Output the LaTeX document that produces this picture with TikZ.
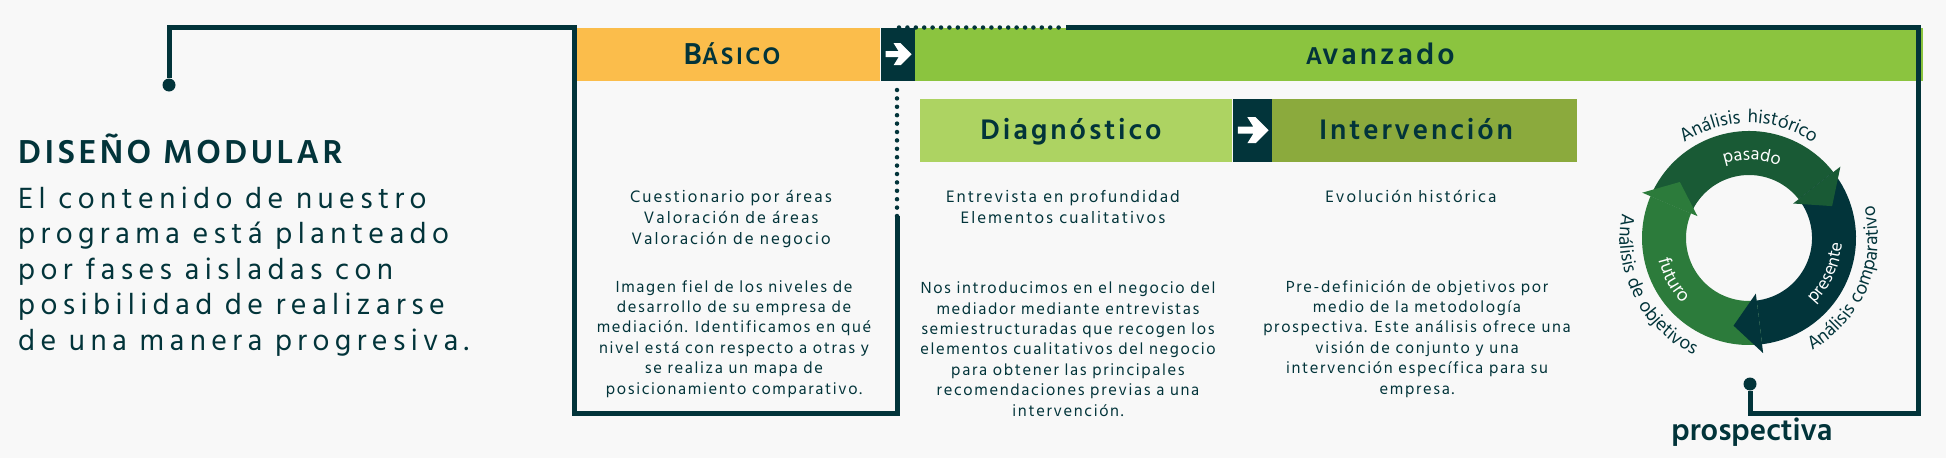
\documentclass[tikz,border=0pt]{standalone}
\usepackage{fontspec}
\setmainfont{Hind Madurai}[LetterSpace=10]
\usetikzlibrary{positioning,arrows.meta,decorations.text}

\definecolor{oscuro}{HTML}{02343A}
\definecolor{naranja}{HTML}{FBBD4B}
\definecolor{verde}{HTML}{8BC43F}
\definecolor{verdeclaro}{HTML}{ADD362}
\definecolor{oliva}{HTML}{8BAA3D}
\definecolor{pasadoc}{HTML}{195A35}
\definecolor{futuroc}{HTML}{2C7B3B}
\definecolor{fondo}{HTML}{F8F8F8}

\tikzstyle{barra}=[rectangle,inner sep=0pt,minimum height=53pt]
\tikzstyle{fase}=[rectangle,inner sep=0pt,minimum height=63pt]
\tikzstyle{flechabox}=[rectangle,fill=oscuro,inner sep=0pt]
\tikzstyle{cabecera}=[text=oscuro,inner sep=0pt,font=\bfseries\fontsize{29}{29}\selectfont]
\tikzstyle{lista}=[text=oscuro,inner sep=0pt,align=center,font=\fontsize{17}{21}\selectfont\addfontfeature{LetterSpace=12}]
\tikzstyle{parrafo}=[text=oscuro,inner sep=0pt,align=center,font=\fontsize{16.5}{20.4}\selectfont]
\tikzstyle{marco}=[draw=oscuro,line width=5pt]
\tikzstyle{punteado}=[draw=oscuro,line width=4.5pt,line cap=round,dash pattern=on 0pt off 8.4pt]
\tikzstyle{punto}=[circle,fill=oscuro,inner sep=0pt,minimum size=13pt]
\tikzstyle{anillo}=[decorate,decoration={text along path,text align=center}]

\begin{document}
\begin{tikzpicture}[x=1pt,y=1pt]
            \useasboundingbox[fill=fondo] (0,0) rectangle (1946,-458);

            % INTRO PART

            \node[text=oscuro,inner sep=0pt,anchor=base west,font=\bfseries\fontsize{34}{34}\selectfont] (titulo) at (18,-163) {DISEÑO MODULAR};
            \node[text=oscuro,inner sep=0pt,anchor=base west,align=left,font=\fontsize{30}{35.5}\selectfont\addfontfeature{LetterSpace=18}] (intro) at (18,-350) {El contenido de nuestro\\programa está planteado\\por fases aisladas con\\posibilidad de realizarse\\de una manera progresiva.};

            % BARS PART

            \node[barra,fill=naranja,minimum width=306pt,anchor=north west] (bas) at (574,-27.5) {};
            \node[barra,flechabox,minimum width=34pt,right=0pt of bas] (f1) {};
            \node[barra,fill=verde,minimum width=1008pt,right=0pt of f1] (ava) {};

            \node[cabecera,anchor=base] (tbas) at (732,-64) {\fontsize{31}{31}\selectfont B{\fontsize{24.5}{24.5}\selectfont ÁSICO}};
            \node[cabecera,anchor=base] (tava) at (1380,-64) {\fontsize{30.5}{30.5}\selectfont{\fontsize{25}{25}\selectfont A}vanzado};

            \node[fase,fill=verdeclaro,minimum width=312pt,anchor=north west] (diag) at (920,-98.5) {};
            \node[fase,flechabox,minimum width=39pt,right=0pt of diag] (f2) {};
            \node[fase,fill=oliva,minimum width=305pt,right=0pt of f2] (inter) {};

            \node[cabecera,anchor=base] (tdiag) at (1071,-139) {Diagnóstico};
            \node[cabecera,anchor=base] (tinter) at (1416,-139) {Intervención};

            \foreach \b/\s in {f1/1,f2/1.18}
                \fill[white,shift={(\b)},scale=\s] (-12,3) -- (1,3) -- (-4,11) -- (3,11) -- (14,0)
                    -- (3,-11) -- (-4,-11) -- (1,-3) -- (-12,-3) -- cycle;

            % TEXT PART

            \node[lista,anchor=base] (lbas) at (731,-244) {Cuestionario por áreas\\Valoración de áreas\\Valoración de negocio};
            \node[lista,anchor=base] (ldiag) at (1063,-223) {Entrevista en profundidad\\Elementos cualitativos};
            \node[lista,anchor=base] (linter) at (1411,-202) {Evolución histórica};

            \node[parrafo,anchor=base] (pbas) at (734,-394) {Imagen fiel de los niveles de\\desarrollo de su empresa de\\mediación. Identificamos en qué\\nivel está con respecto a otras y\\se realiza un mapa de\\posicionamiento comparativo.};
            \node[parrafo,anchor=base] (pdiag) at (1068,-416) {Nos introducimos en el negocio del\\mediador mediante entrevistas\\semiestructuradas que recogen los\\elementos cualitativos del negocio\\para obtener las principales\\recomendaciones previas a una\\intervención.};
            \node[parrafo,anchor=base] (pinter) at (1417,-394) {Pre-definición de objetivos por\\medio de la metodología\\prospectiva. Este análisis ofrece una\\visión de conjunto y una\\intervención específica para su\\empresa.};

            % FRAME PART

            \node[punto] (dotl) at (169,-85) {};
            \node[punto] (dotr) at (1750,-384) {};
            \node[text=oscuro,inner sep=0pt,anchor=base,font=\bfseries\fontsize{31}{31}\selectfont\addfontfeature{LetterSpace=0}] (prosp) at (1752,-440) {prospectiva};

            \coordinate (m1) at (574,-413);
            \coordinate (m2) at (897,-413);
            \coordinate (m3) at (897,-216);
            \coordinate (m4) at (897,-82);
            \coordinate (m5) at (899,-27.5);
            \coordinate (m6) at (1066,-27.5);
            \coordinate (m7) at (1918,-27.5);
            \coordinate (m8) at (1918,-413);

            \draw[marco] (dotl) |- (bas.north west) -- (m1) -- (m2) -- (m3);
            \draw[punteado] (m3) -- (m4);
            \draw[punteado] (m5) -- (m6);
            \draw[marco] (m6) -- (m7) -- (m8) -| (dotr);

            % CYCLE PART

            \begin{scope}[shift={(1749,-238)}]
            \foreach \a/\b/\c in {157/38/pasadoc,38/-83/oscuro,-83/-203/futuroc}
                \fill[\c] (\a:107) arc[start angle=\a,end angle=\b,radius=107] -- (\b:63)
                    arc[start angle=\b,end angle=\a,radius=63] -- cycle;
            \foreach \a/\b/\c in {38/21/pasadoc,-83/-100/oscuro,157/141/futuroc}
                \fill[\c] (\a:56) -- (\a:116) -- (\b:89) -- cycle;

            \path[anillo,decoration={text={|\fontsize{19}{19}\selectfont\color{oscuro}|Análisis histórico}}]
                (150:115) arc[start angle=150,end angle=30,radius=115];
            \path[anillo,decoration={text={|\fontsize{19}{19}\selectfont\color{oscuro}|Análisis comparativo}}]
                (-85:129) arc[start angle=-85,end angle=39,radius=129];
            \path[anillo,decoration={text={|\fontsize{19}{19}\selectfont\color{oscuro}|Análisis de objetivos}}]
                (140:129) arc[start angle=140,end angle=274,radius=129];
            \path[anillo,decoration={text={|\fontsize{18}{18}\selectfont\color{white}|pasado}}]
                (130:78) arc[start angle=130,end angle=46,radius=78];
            \path[anillo,decoration={text={|\fontsize{18}{18}\selectfont\color{white}|presente}}]
                (-70:93) arc[start angle=-70,end angle=22,radius=93];
            \path[anillo,decoration={text={|\fontsize{19}{19}\selectfont\color{white}|futuro}}]
                (170:93) arc[start angle=170,end angle=248,radius=93];
            \end{scope}

\end{tikzpicture}
\end{document}
